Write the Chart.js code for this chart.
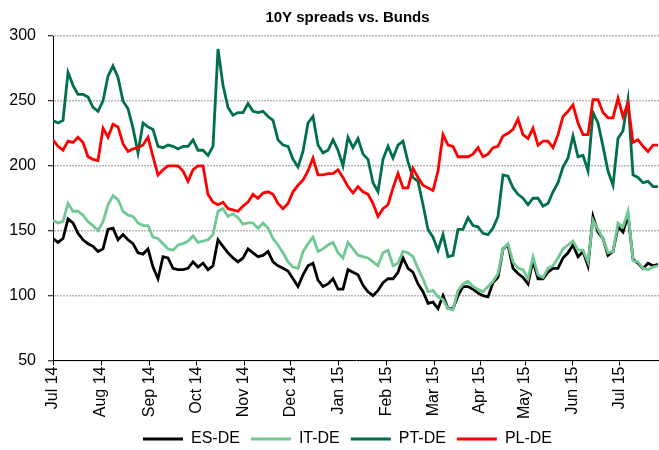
<!DOCTYPE html>
<html><head><meta charset="utf-8">
<script src="https://cdn.jsdelivr.net/npm/chart.js@4"></script>
<style>html,body{margin:0;padding:0;background:#fff;overflow:hidden}#wrap{width:659px;height:450px;position:relative}</style>
</head><body><div id="wrap"><canvas id="c"></canvas></div>
<script>
const seriesNames = ['ES-DE','IT-DE','PT-DE','PL-DE'];
const seriesColors = ['#000000','#70c993','#00704a','#ff0000'];
const esDe = [144,141,144,159,156,148,143,140,138,134,136,151,152,143,147,143,140,133,132,136,122,
113,130,129,121,120,120,121,126,122,125,120,123,143,138,133,129,126,129,136,133,
130,131,134,126,123,121,119,113,107,116,123,125,112,107,109,113,105,105,120,118,
116,108,103,100,104,110,113,113,118,129,121,118,109,103,94,95,90,100,90,90,
100,107,107,105,102,100,99,110,114,136,139,121,117,114,109,127,113,113,118,121,
121,129,133,139,130,134,123,161,149,144,131,134,153,149,162,128,125,121,125,123,124];
const itDe = [158,156,157,171,165,165,162,157,154,150,157,170,177,174,165,162,161,156,154,154,145,
144,140,136,135,139,140,142,146,141,142,143,147,165,167,161,163,160,155,156,156,
152,156,152,144,139,133,126,122,121,134,140,145,134,136,139,141,133,129,141,136,
131,130,129,126,123,133,135,123,125,134,133,130,121,113,103,104,99,97,90,89,
104,109,111,107,105,103,107,111,117,136,140,126,121,120,113,130,116,114,121,123,
129,136,139,142,135,135,126,158,151,144,133,134,156,153,165,127,126,121,120,122,123];
const ptDe = [235,233,235,272,262,255,255,253,245,242,250,269,277,268,250,244,229,210,233,230,228,
215,214,216,215,213,215,215,220,212,212,208,215,290,262,245,239,241,241,248,242,
241,242,238,235,220,216,215,205,199,211,233,238,216,210,212,220,212,200,222,214,
221,209,205,187,180,205,215,206,216,219,203,191,188,170,151,145,135,147,130,131,
151,151,160,154,153,148,147,152,161,193,192,183,178,175,170,175,175,169,171,180,
187,199,206,223,207,208,196,241,233,215,196,185,221,227,251,193,191,187,188,184,184];
const plDe = [220,215,212,219,218,222,218,207,205,204,229,222,232,230,217,211,213,214,216,222,207,
193,197,200,200,200,196,188,197,200,200,178,172,170,172,167,166,165,169,172,178,
175,179,180,178,171,167,171,180,185,189,196,206,193,193,194,194,197,191,184,179,
184,180,178,171,161,167,170,183,194,183,183,198,191,185,183,181,196,224,216,215,
207,207,207,209,214,207,209,214,215,223,225,228,236,224,221,229,216,219,219,214,
224,238,242,247,233,224,224,251,251,241,237,237,252,238,248,218,220,215,211,216,216];
const monthLabels = ['Jul 14','Aug 14','Sep 14','Oct 14','Nov 14','Dec 14','Jan 15','Feb 15','Mar 15','Apr 15','May 15','Jun 15','Jul 15'];
const monthPositions = [0,9.6,19.26,28.74,38.2,47.54,57.14,66.74,76.2,85.4,94.4,103.94,113.26];
const yTicks = [50,100,150,200,250,300];
const titleText = '10Y spreads vs. Bunds';

const FONT = '"Liberation Sans", Arial, sans-serif';
const allSeries = [esDe, itDe, ptDe, plDe];
const datasets = allSeries.map((arr, k) => ({
  label: seriesNames[k],
  data: arr.map((v, i) => ({x: i, y: v})),
  borderColor: seriesColors[k],
  backgroundColor: seriesColors[k],
  borderWidth: 2.8,
  pointRadius: 0,
  tension: 0,
  order: 4 - k
}));

new Chart(document.getElementById('c'), {
  type: 'line',
  data: {datasets},
  options: {
    responsive: true,
    maintainAspectRatio: false,
    animation: false,
    layout: {padding: {left: 0, right: -36, top: 0, bottom: -7}},
    plugins: {
      tooltip: {enabled: false},
      title: {
        display: true, text: titleText, color: '#000',
        font: {family: FONT, size: 15, weight: 'bold'},
        padding: {top: 9, bottom: 9}
      },
      legend: {
        position: 'bottom',
        labels: {
          boxWidth: 40, boxHeight: 3, padding: 11, color: '#000',
          font: {family: FONT, size: 16},
          sort: (a, b) => a.datasetIndex - b.datasetIndex,
          generateLabels: chart => chart.data.datasets.map((d, i) => ({
            text: d.label, fillStyle: d.borderColor, strokeStyle: d.borderColor,
            lineWidth: 0, datasetIndex: i, hidden: false
          }))
        }
      }
    },
    scales: {
      x: {
        type: 'linear', min: 0, max: 121.2,
        afterBuildTicks: s => { s.ticks = monthPositions.map(v => ({value: v})); },
        ticks: {
          autoSkip: false, minRotation: 90, maxRotation: 90, color: '#000', padding: 1,
          font: {family: FONT, size: 16},
          callback: (v, i) => monthLabels[i]
        },
        grid: {drawOnChartArea: false, tickColor: '#000', tickLength: 5},
        border: {color: '#000', width: 1}
      },
      y: {
        min: 50, max: 300,
        afterBuildTicks: s => { s.ticks = yTicks.map(v => ({value: v})); },
        afterFit: s => { s.width = 53; },
        ticks: {color: '#000', padding: 12, font: {family: FONT, size: 16}},
        grid: {color: '#b8b8b8', lineWidth: 1.5, tickColor: '#000', tickLength: 5, tickBorderDash: [], tickWidth: 1},
        border: {color: '#000', width: 1, dash: [2, 1]}
      }
    }
  }
});
</script></body></html>
